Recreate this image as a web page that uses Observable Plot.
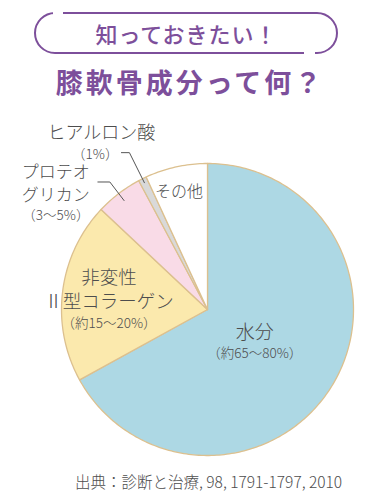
<!DOCTYPE html>
<html><head><meta charset="utf-8">
<script src="https://cdn.jsdelivr.net/npm/d3@7"></script>
<script src="https://cdn.jsdelivr.net/npm/@observablehq/plot@0.6"></script>
<style>
html,body{margin:0;padding:0;background:#fff;}
body{width:372px;height:500px;position:relative;overflow:hidden;font-family:"Noto Sans CJK JP","Noto Sans",sans-serif;}
#pill{position:absolute;left:34px;top:12px;width:304px;height:42px;box-sizing:border-box;border:2px solid #7d4f9b;border-radius:21px;
 color:#7d4f9b;font-size:22px;font-weight:500;letter-spacing:1px;text-align:center;line-height:38px;padding-left:1px;}
.gap{position:absolute;background:#fff;}
#h2{position:absolute;left:0;top:62px;width:380px;text-align:center;color:#7d4f9b;font-size:27px;font-weight:700;letter-spacing:3px;line-height:40px;}
#chart{position:absolute;left:0;top:110px;}
#cap{position:absolute;left:75px;top:470px;font-size:15.5px;color:#4d4d4d;white-space:nowrap;font-weight:300;}
</style></head>
<body>
<div id="pill">知っておきたい！</div>
<div class="gap" style="left:53px;top:10px;width:10px;height:6px"></div>
<div class="gap" style="left:304px;top:50px;width:11px;height:6px"></div>
<div id="h2">膝軟骨成分って何？</div>
<div id="chart"></div>
<div id="cap">出典：診断と治療, 98, 1791-1797, 2010</div>
<script>
// ---- data ----
const names  = ["水分", "非変性Ⅱ型コラーゲン", "プロテオグリカン", "ヒアルロン酸", "その他"];
const values = [67, 20, 5.2, 0.9, 6.9];
const labels = ["水分", "非変性\nⅡ型コラーゲン", "プロテオ\nグリカン", "ヒアルロン酸", "その他"];
const ranges = ["（約65〜80%）", "（約15〜20%）", "（3〜5%）", "（1%）", ""];

// ---- styles ----
const colors = ["#add8e4", "#fbe9ad", "#f9dbe7", "#d9d9d9", "#ffffff"];
const textColor = "#4d4d4d";
const R = 146; // pixel radius
// layout per slice: inside labels (r) or outside with leader (r0,r1,hx)
const layout = {
  "水分": {r: 0.36, dx: 2, ldy: -5, rdy: 17, size: 19},
  "非変性Ⅱ型コラーゲン": {r: 0.68, dx: 0, ldy: -9, rdy: 26, size: 18.5, lh: 1.3},
  "その他": {r: 0.84, dx: -2, ldy: 1, size: 16},
  "ヒアルロン酸": {r0: 0.97, r1: 1.2, hx: -8, ldx: -20, ldy: -21, rdx: -3, rdy: 1, ranchor: "end", size: 18},
  "プロテオグリカン": {r0: 0.94, r1: 1.1, hx: -12, ldx: -42, ldy: 0, rdx: -42, rdy: 33, size: 17, lh: 1.38}
};
const rangeSize = 13.5;

const arcs = d3.pie().sort(null).value(d => d)(values);

// slice outlines as closed paths in unit coordinates
const slicePts = [];
arcs.forEach((a, i) => {
  slicePts.push({name: names[i], x: 0, y: 0});
  const n = Math.max(2, Math.ceil((a.endAngle - a.startAngle) / (Math.PI / 180)));
  for (let k = 0; k <= n; k++) {
    const t = a.startAngle + (a.endAngle - a.startAngle) * k / n;
    slicePts.push({name: names[i], x: Math.sin(t), y: Math.cos(t)});
  }
  slicePts.push({name: names[i], x: 0, y: 0});
});

const texts = [], leaders = [];
arcs.forEach((a, i) => {
  const L = layout[names[i]];
  const m = (a.startAngle + a.endAngle) / 2;
  if (L.r !== undefined) {
    const p = {x: L.r * Math.sin(m), y: L.r * Math.cos(m)};
    texts.push({...p, text: labels[i], dx: L.dx, dy: L.ldy, size: L.size, lh: L.lh || 1.2, anchor: "middle"});
    if (ranges[i]) texts.push({...p, text: ranges[i], dx: L.dx, dy: L.rdy, size: rangeSize, lh: 1.2, anchor: "middle"});
  } else {
    const p0 = {x: L.r0 * Math.sin(m), y: L.r0 * Math.cos(m)};
    const p1 = {x: L.r1 * Math.sin(m), y: L.r1 * Math.cos(m)};
    const p2 = {x: p1.x + L.hx / R, y: p1.y};
    leaders.push({name: names[i], ...p0}, {name: names[i], ...p1}, {name: names[i], ...p2});
    texts.push({...p2, text: labels[i], dx: L.ldx, dy: L.ldy, size: L.size, lh: L.lh || 1.2, anchor: "middle"});
    texts.push({...p2, text: ranges[i], dx: L.rdx, dy: L.rdy, size: rangeSize, lh: 1.2, anchor: L.ranchor || "middle"});
  }
});

const W = 372, H = 350, cx = 207, cy = 199;
const textMarks = texts.map(t => Plot.text([t], {
  x: "x", y: "y", text: "text", dx: t.dx, dy: t.dy, fontSize: t.size, lineHeight: t.lh,
  textAnchor: t.anchor, fill: textColor, fontFamily: "Noto Sans CJK JP", fontWeight: 300
}));

const chart = Plot.plot({
  width: W, height: H,
  marginLeft: cx - R, marginRight: W - (cx + R),
  marginTop: cy - R, marginBottom: H - (cy + R),
  x: {domain: [-1, 1], axis: null},
  y: {domain: [-1, 1], axis: null},
  color: {domain: names, range: colors},
  style: {background: "transparent", overflow: "visible"},
  marks: [
    Plot.line(slicePts, {x: "x", y: "y", z: "name", fill: "name", stroke: "#dcc08f", strokeWidth: 1.3, strokeLinejoin: "round", curve: "linear"}),
    Plot.line(leaders, {x: "x", y: "y", z: "name", stroke: "#555", strokeWidth: 1}),
    ...textMarks
  ]
});
document.getElementById("chart").appendChild(chart);
</script>
</body></html>
